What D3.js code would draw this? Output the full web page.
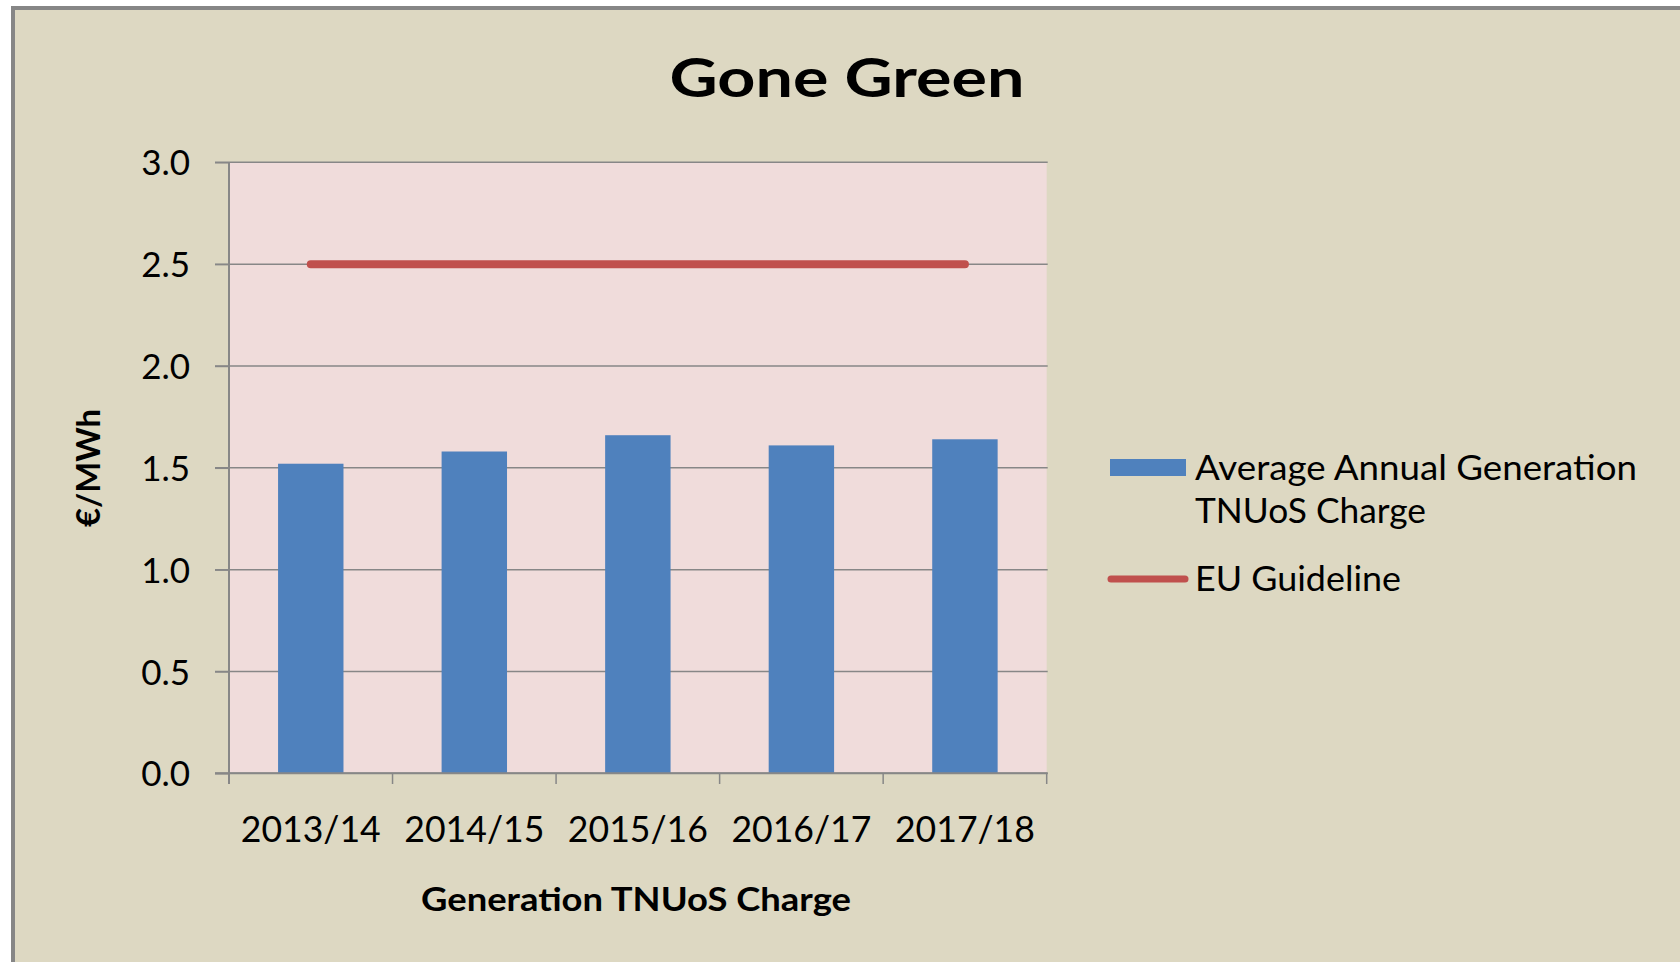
<!DOCTYPE html>
<html>
<head>
<meta charset="utf-8">
<script src="https://cdn.jsdelivr.net/npm/d3@7"></script>
<style>
  html, body { margin: 0; padding: 0; background: #ffffff; }
  svg { display: block; }
</style>
</head>
<body>
<script>
// ---- data ----
const categories = ["2013/14", "2014/15", "2015/16", "2016/17", "2017/18"];
const avgCharge = [1.52, 1.58, 1.66, 1.61, 1.64];
const euGuideline = [2.5, 2.5, 2.5, 2.5, 2.5];
const yTicks = [0, 0.5, 1.0, 1.5, 2.0, 2.5, 3.0];
const chartTitle = "Gone Green";
const yTitle = "€/MWh";
const xTitle = "Generation TNUoS Charge";
const legendLabels = [["Average Annual Generation", "TNUoS Charge"], ["EU Guideline"]];

// ---- layout ----
const W = 1680, H = 962;
const plot = { left: 229, right: 1046.7, top: 162.3, bottom: 773.3 };
const colors = { outer: "#DDD8C2", plotBg: "#F0DCDB", bar: "#4F81BD", line: "#C0504D", grid: "#878787", frame: "#868686" };
const FONT = "Lato, 'Open Sans', sans-serif";

const svg = d3.select("body").append("svg").attr("width", W).attr("height", H);

// outer frame
svg.append("rect").attr("x", 11).attr("y", 6).attr("width", W).attr("height", H)
  .attr("fill", colors.frame);
svg.append("rect").attr("x", 15).attr("y", 10).attr("width", W).attr("height", H)
  .attr("fill", colors.outer);

// scales
const x = d3.scaleBand().domain(categories).range([plot.left, plot.right])
  .paddingInner(0.6).paddingOuter(0.3);
const xEdge = d3.scaleLinear().domain([0, categories.length]).range([plot.left, plot.right]);
const y = d3.scaleLinear().domain([0, 3]).range([plot.bottom, plot.top]);

// plot background
svg.append("rect").attr("x", plot.left).attr("y", plot.top)
  .attr("width", plot.right - plot.left).attr("height", plot.bottom - plot.top)
  .attr("fill", colors.plotBg);

// gridlines
svg.append("g").selectAll("line").data(yTicks).join("line")
  .attr("x1", 215).attr("x2", plot.right + 1)
  .attr("y1", d => y(d)).attr("y2", d => y(d))
  .attr("stroke", colors.grid).attr("stroke-width", 1.5);

// y axis
const yAxis = svg.append("g").attr("transform", `translate(${plot.left},0)`)
  .call(d3.axisLeft(y).tickValues(yTicks).tickFormat(d3.format(".1f")).tickSize(14).tickPadding(25));
yAxis.select(".domain").remove();
yAxis.selectAll(".tick line").attr("stroke", colors.grid).attr("stroke-width", 1.5);
yAxis.selectAll(".tick text")
  .attr("font-family", FONT).attr("font-size", 35)
  .attr("fill", "#000").attr("dy", "0.36em");

// bars
svg.append("g").selectAll("rect").data(avgCharge).join("rect")
  .attr("x", (d, i) => x(categories[i]))
  .attr("width", x.bandwidth())
  .attr("y", d => y(d))
  .attr("height", d => y(0) - y(d))
  .attr("fill", colors.bar);

// y axis vertical line
svg.append("line").attr("x1", plot.left).attr("x2", plot.left)
  .attr("y1", plot.top).attr("y2", 784)
  .attr("stroke", colors.grid).attr("stroke-width", 2);

// x axis baseline + boundary ticks
svg.append("line").attr("x1", 215).attr("x2", plot.right + 1)
  .attr("y1", y(0)).attr("y2", y(0))
  .attr("stroke", colors.grid).attr("stroke-width", 2);
svg.append("g").selectAll("line").data(d3.range(categories.length + 1)).join("line")
  .attr("x1", d => xEdge(d)).attr("x2", d => xEdge(d))
  .attr("y1", y(0)).attr("y2", 784)
  .attr("stroke", colors.grid).attr("stroke-width", 1.5);

// x tick labels
const xAxis = svg.append("g").attr("transform", `translate(0,${y(0)})`)
  .call(d3.axisBottom(x).tickSize(0).tickPadding(0));
xAxis.select(".domain").remove();
xAxis.selectAll(".tick text")
  .attr("font-family", FONT).attr("font-size", 36)
  .attr("textLength", 140).attr("lengthAdjust", "spacingAndGlyphs")
  .attr("fill", "#000").attr("y", 842 - y(0)).attr("dy", 0);

// EU guideline line
const line = d3.line().x((d, i) => x(categories[i]) + x.bandwidth() / 2).y(d => y(d));
svg.append("path").datum(euGuideline).attr("d", line)
  .attr("fill", "none").attr("stroke", colors.line).attr("stroke-width", 8)
  .attr("stroke-linecap", "round");

// title
svg.append("text").attr("x", 847).attr("y", 97).attr("text-anchor", "middle")
  .attr("font-family", FONT).attr("font-weight", "bold")
  .attr("font-size", 53).attr("textLength", 355).attr("lengthAdjust", "spacingAndGlyphs")
  .attr("fill", "#000").text(chartTitle);

// y title
svg.append("text").attr("transform", "translate(100,468) rotate(-90)")
  .attr("text-anchor", "middle")
  .attr("font-family", FONT).attr("font-weight", "bold")
  .attr("font-size", 33).attr("textLength", 118).attr("lengthAdjust", "spacingAndGlyphs")
  .attr("fill", "#000").text(yTitle);

// x title
svg.append("text").attr("x", 636).attr("y", 911).attr("text-anchor", "middle")
  .attr("font-family", FONT).attr("font-weight", "bold")
  .attr("font-size", 33).attr("textLength", 430).attr("lengthAdjust", "spacingAndGlyphs")
  .attr("fill", "#000").text(xTitle);

// legend
const lg = svg.append("g");
lg.append("rect").attr("x", 1110).attr("y", 459).attr("width", 76).attr("height", 17)
  .attr("fill", colors.bar);
lg.append("line").attr("x1", 1111).attr("x2", 1185).attr("y1", 579).attr("y2", 579)
  .attr("stroke", colors.line).attr("stroke-width", 7).attr("stroke-linecap", "round");
const legendLines = [
  { t: legendLabels[0][0], y: 480, w: 442 },
  { t: legendLabels[0][1], y: 523, w: 231 },
  { t: legendLabels[1][0], y: 591, w: 206 }
];
lg.selectAll("text").data(legendLines).join("text")
  .attr("x", 1195).attr("y", d => d.y)
  .attr("font-family", FONT).attr("font-size", 34)
  .attr("textLength", d => d.w).attr("lengthAdjust", "spacingAndGlyphs")
  .attr("fill", "#000").text(d => d.t);
</script>
</body>
</html>
